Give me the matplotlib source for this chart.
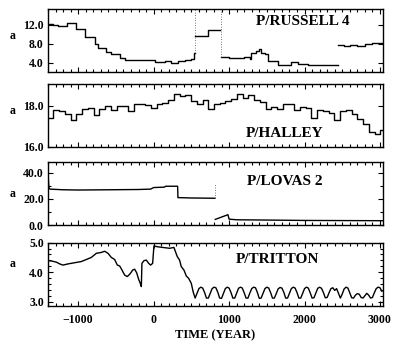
import numpy as np
import matplotlib.pyplot as plt
from matplotlib.ticker import MultipleLocator, FormatStrFormatter

plt.rcParams['font.family'] = 'Liberation Serif'
plt.rcParams['font.weight'] = 'bold'

# P/Russell 4 : semi-major axis (AU), drawn as steps, NaN = break
russell_year = [-1404, -1330, -1270, -1150, -1030, -915, -781, -737, -627, -561,
                -450, -384, 13, 146, 234, 322, 410, 499, 530, 543,
                543, 548, 720, 883,
                883, 896, 1000, 1100, 1200, 1271, 1294, 1360, 1390, 1426,
                1470, 1514, 1600, 1647, 1823, 1912, 2044, 2441,
                2441, 2441, 2520, 2600, 2700, 2800, 2900, 3040]
russell_a = [12.1, 11.9, 11.7, 12.4, 11.1, 9.3, 8.0, 7.05, 6.3, 5.8,
             5.1, 4.5, 4.25, 4.45, 3.95, 4.35, 4.6, 4.9, 6.1, 6.1,
             np.nan, 9.7, 10.9, 10.9,
             np.nan, 5.2, 5.1, 5.05, 5.2, 4.8, 6.0, 6.4, 7.0, 6.0,
             5.8, 4.4, 4.3, 3.65, 4.2, 3.8, 3.65, 3.65,
             np.nan, 7.75, 7.6, 7.8, 7.6, 7.9, 8.1, 8.2]
russell_jump_year = [543, 890]
russell_jump_from = [6.1, 5.2]

# P/Halley : one value per revolution (~76 yr)
halley_year = np.append(np.arange(-1404, 3040, 76), 3040)
halley_a = [17.40, 17.77, 17.74, 17.61, 17.31, 17.61, 17.85, 17.90, 17.57, 17.85,
            17.97, 17.80, 18.00, 17.97, 17.74, 18.10, 18.07, 18.02, 17.90, 18.10,
            18.13, 18.26, 18.56, 18.46, 18.51, 18.23, 18.10, 18.26, 17.85, 18.10,
            18.13, 18.23, 18.34, 18.59, 18.39, 18.51, 18.26, 18.18, 17.85, 17.93,
            17.85, 18.10, 18.07, 17.80, 17.93, 17.90, 17.41, 17.77, 17.74, 17.64,
            17.31, 17.74, 17.77, 17.61, 17.36, 17.11, 16.70, 16.62, 16.82, 16.82]

# P/Lovas 2
lovas_year = [-1404, -1396, -1388, -1375, -1200, -1000, -600, -200, -40, 0,
              140, 160, 318, 322, 500, 812, 812, 817, 985, 1000,
              1100, 1500, 2000, 2500, 3040]
lovas_a = [40.5, 36.0, 28.5, 27.5, 27.0, 26.8, 27.0, 27.2, 27.5, 28.7,
           29.0, 29.7, 29.7, 21.0, 20.7, 20.5, np.nan, 4.3, 7.9, 4.5,
           4.0, 3.8, 3.5, 3.4, 3.3]
lovas_jump_year = [812]
lovas_jump_from = [20.5]
lovas_jump_to = [31.8]

# P/Tritton : irregular part before the 6th century
tritton_year = [-1404, -1355, -1289, -1245, -1201, -1135, -1046, -958, -892, -826,
                -759, -693, -649, -605, -561, -517, -481, -450, -419, -384,
                -349, -313, -278, -252, -225, -199, -177, -163, -155, -128,
                -97, -66, -40, -13, 4, 57, 146, 212, 269, 291,
                313, 344, 366, 402, 433, 464, 499]
tritton_a = [4.39, 4.38, 4.34, 4.28, 4.24, 4.28, 4.32, 4.36, 4.43, 4.50,
             4.64, 4.67, 4.71, 4.64, 4.50, 4.43, 4.24, 4.21, 4.07, 3.90,
             3.85, 3.94, 4.07, 4.10, 3.98, 3.76, 3.62, 3.51, 4.30, 4.39,
             4.41, 4.30, 4.24, 4.30, 4.89, 4.86, 4.83, 4.81, 4.84, 4.69,
             4.53, 4.41, 4.19, 4.07, 3.87, 3.79, 3.62]
# ... and the libration afterwards, sampled every 25 yr from 525
tritton_osc_year = np.arange(525, 3026, 25)
tritton_osc_a = [3.32, 3.12, 3.28, 3.44,
                 3.49, 3.46, 3.31, 3.12, 3.12, 3.28, 3.44,
                 3.49, 3.47, 3.32, 3.12, 3.11, 3.27, 3.44,
                 3.49, 3.46, 3.31, 3.12, 3.12, 3.28, 3.45,
                 3.49, 3.46, 3.30, 3.12, 3.12, 3.29, 3.44,
                 3.49, 3.47, 3.31, 3.11, 3.12, 3.28, 3.44,
                 3.49, 3.46, 3.31, 3.12, 3.12, 3.27, 3.43,
                 3.48, 3.46, 3.32, 3.12, 3.12, 3.28, 3.44,
                 3.49, 3.46, 3.31, 3.12, 3.12, 3.28, 3.44,
                 3.49, 3.46, 3.30, 3.12, 3.13, 3.29, 3.45,
                 3.49, 3.45, 3.31, 3.13, 3.14, 3.30, 3.44,
                 3.47, 3.38, 3.44, 3.28, 3.12, 3.26, 3.43,
                 3.49, 3.46, 3.30, 3.13, 3.12, 3.22, 3.27, 3.25, 3.14, 3.12,
                 3.20, 3.28, 3.22, 3.12, 3.14, 3.30, 3.44, 3.49, 3.47, 3.35]

fig = plt.figure(figsize=(4, 3.45), dpi=100)
left, width, height = 0.12, 0.8375, 0.1835
bottoms = [0.7913, 0.5725, 0.3478, 0.113]
axes = [fig.add_axes([left, b, width, height]) for b in bottoms]

lw = 1.0
ax1, ax2, ax3, ax4 = axes
ax1.plot(russell_year, russell_a, color='black', lw=lw, drawstyle='steps-post')
ax1.vlines(russell_jump_year, russell_jump_from, 16, colors='0.3', lw=0.6, linestyles=(0, (1, 2)))
ax2.plot(halley_year, halley_a, color='black', lw=lw, drawstyle='steps-post')
ax3.plot(lovas_year, lovas_a, color='black', lw=lw)
ax3.vlines(lovas_jump_year, lovas_jump_from, lovas_jump_to, colors='0.3', lw=0.6, linestyles=(0, (1, 2)))
ax4.plot(tritton_year + list(tritton_osc_year), tritton_a + tritton_osc_a, color='black', lw=lw)

ylims = [(2.1, 15.3), (15.97, 19.05), (0, 48.5), (2.85, 5.0)]
ymajor = [4, 2, 20, 1]
yminor = [None, None, 10, 0.2]
titles = ['P/RUSSELL 4', 'P/HALLEY', 'P/LOVAS 2', 'P/TRITTON']
title_pos = [(0.761, 0.79), (0.707, 0.228), (0.707, 0.695), (0.684, 0.742)]
alabel_y = [0.48, 0.485, 0.395, 0.57]

for i, ax in enumerate(axes):
    ax.set_xlim(-1400, 3040)
    ax.set_ylim(*ylims[i])
    ax.xaxis.set_major_locator(MultipleLocator(1000))
    ax.xaxis.set_minor_locator(MultipleLocator(100))
    ax.yaxis.set_major_locator(MultipleLocator(ymajor[i]))
    if yminor[i]:
        ax.yaxis.set_minor_locator(MultipleLocator(yminor[i]))
    ax.yaxis.set_major_formatter(FormatStrFormatter('%.1f'))
    ax.tick_params(which='both', direction='in', top=True, right=True, width=0.8)
    ax.tick_params(which='major', length=3.5)
    ax.tick_params(which='minor', length=2)
    ax.tick_params(axis='y', labelsize=8.5, pad=3)
    ax.tick_params(axis='x', labelsize=8.5, pad=6)
    for s in ax.spines.values():
        s.set_linewidth(1.0)
    if i < 3:
        ax.tick_params(axis='x', labelbottom=False)
    ax.text(title_pos[i][0], title_pos[i][1], titles[i], transform=ax.transAxes,
            ha='center', va='center', fontsize=11, fontweight='bold')
    ax.set_ylabel('a', rotation=0, fontsize=8.5, fontweight='bold')
    ax.yaxis.set_label_coords(-0.107, alabel_y[i])

ax4.set_xlabel('TIME (YEAR)', fontsize=9, fontweight='bold', labelpad=2)

fig.savefig('out.png', dpi=100)
